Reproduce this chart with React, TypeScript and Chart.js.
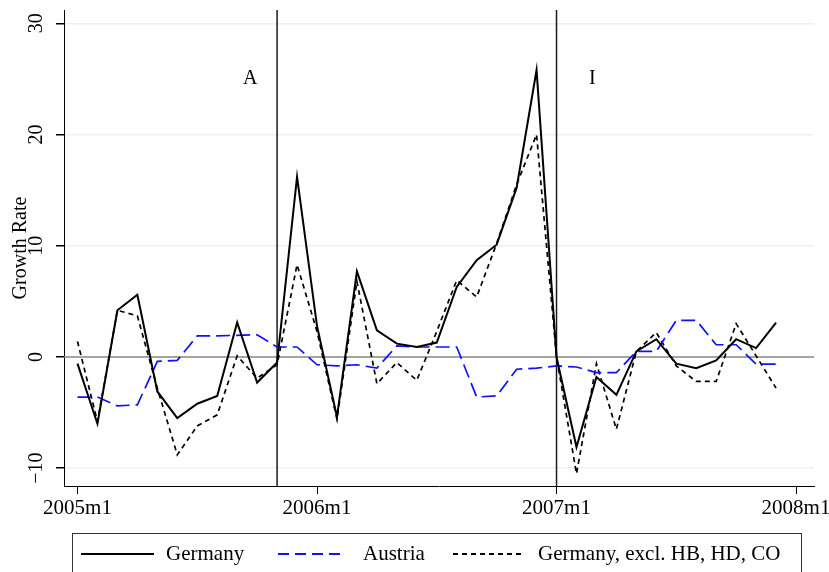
import React, { useEffect, useRef } from "react";
import { Chart, registerables } from "chart.js";

Chart.register(...registerables);

const FONT = "'Liberation Serif', 'Times New Roman', serif";

const months = [
  "2005m1", "2005m2", "2005m3", "2005m4", "2005m5", "2005m6",
  "2005m7", "2005m8", "2005m9", "2005m10", "2005m11", "2005m12",
  "2006m1", "2006m2", "2006m3", "2006m4", "2006m5", "2006m6",
  "2006m7", "2006m8", "2006m9", "2006m10", "2006m11", "2006m12",
  "2007m1", "2007m2", "2007m3", "2007m4", "2007m5", "2007m6",
  "2007m7", "2007m8", "2007m9", "2007m10", "2007m11", "2007m12",
];

const germany = [
  -0.6, -6.0, 4.2, 5.6, -3.1, -5.5, -4.2, -3.5, 3.1, -2.3, -0.5, 16.2,
  2.8, -5.4, 7.7, 2.4, 1.2, 0.9, 1.3, 6.3, 8.7, 10.1, 15.2, 25.8,
  0.0, -8.1, -1.8, -3.4, 0.5, 1.6, -0.6, -1.0, -0.3, 1.6, 0.8, 3.1,
];

const austria = [
  -3.6, -3.6, -4.4, -4.3, -0.4, -0.3, 1.9, 1.9, 1.95, 2.0, 0.9, 0.9,
  -0.7, -0.8, -0.7, -1.0, 1.0, 0.9, 0.9, 0.9, -3.6, -3.5, -1.1, -1.0,
  -0.8, -0.9, -1.4, -1.4, 0.5, 0.5, 3.3, 3.3, 1.1, 1.1, -0.65, -0.65,
];

const germanyExcl = [
  1.4, -5.8, 4.2, 3.7, -2.8, -8.8, -6.2, -5.2, 0.1, -1.9, -0.7, 8.3,
  2.3, -5.6, 6.8, -2.4, -0.5, -2.1, 2.3, 6.9, 5.4, 10.2, 15.5, 20.0,
  0.0, -10.5, -0.6, -6.5, 0.5, 2.2, -0.8, -2.2, -2.2, 3.0, 0.1, -2.8,
];

const xTickValues = [0, 12, 24, 36];
const xTickLabels = ["2005m1", "2006m1", "2007m1", "2008m1"];
const yTickValues = [-10, 0, 10, 20, 30];
const eventLines = [10, 24]; // 2005m11, 2007m1
const eventLabels = [
  { text: "A", x: 8.65, y: 25 },
  { text: "I", x: 25.8, y: 25 },
];
const seriesNames = ["Germany", "Austria", "Germany, excl. HB, HD, CO"];
const seriesColors = ["#000000", "#1010ff", "#000000"];
const seriesDashes: number[][] = [[], [14, 6], [5, 4]];

const customDraw = {
  id: "customDraw",
  beforeDatasetsDraw(chart: any) {
    const { ctx, chartArea: ca, scales } = chart;
    const x = scales.x;
    const y = scales.y;
    ctx.save();
    const y0 = y.getPixelForValue(0);
    ctx.strokeStyle = "#8a8a8a";
    ctx.lineWidth = 1.5;
    ctx.beginPath();
    ctx.moveTo(ca.left, y0);
    ctx.lineTo(ca.right, y0);
    ctx.stroke();
    ctx.strokeStyle = "#1a1a1a";
    ctx.lineWidth = 1.5;
    eventLines.forEach((m) => {
      const px = x.getPixelForValue(m);
      ctx.beginPath();
      ctx.moveTo(px, ca.top);
      ctx.lineTo(px, ca.bottom);
      ctx.stroke();
    });
    ctx.restore();
  },
  afterDraw(chart: any) {
    const { ctx, chartArea: ca, scales } = chart;
    const x = scales.x;
    const y = scales.y;
    ctx.save();
    ctx.fillStyle = "#000";
    ctx.font = `20px ${FONT}`;
    ctx.textAlign = "center";
    ctx.textBaseline = "middle";
    yTickValues.forEach((v) => {
      const py = y.getPixelForValue(v);
      ctx.save();
      ctx.translate(37, py);
      ctx.rotate(-Math.PI / 2);
      ctx.fillText(v < 0 ? "\u2212" + Math.abs(v) : String(v), 0, 0);
      ctx.restore();
    });
    ctx.save();
    ctx.translate(21, (ca.top + ca.bottom) / 2);
    ctx.rotate(-Math.PI / 2);
    ctx.fillText("Growth Rate", 0, 0);
    ctx.restore();
    eventLabels.forEach((l) => {
      ctx.fillText(l.text, x.getPixelForValue(l.x), y.getPixelForValue(l.y));
    });
    // legend
    ctx.strokeStyle = "#333";
    ctx.lineWidth = 1;
    ctx.strokeRect(72.5, 533.5, 729, 70);
    const ly = 554;
    const items = [
      { x1: 81, x2: 154, tx: 166 },
      { x1: 278, x2: 345, tx: 363 },
      { x1: 453, x2: 522, tx: 538 },
    ];
    ctx.font = `21px ${FONT}`;
    ctx.textAlign = "left";
    items.forEach((it, i) => {
      ctx.strokeStyle = seriesColors[i];
      ctx.lineWidth = i === 0 ? 2 : 1.8;
      ctx.setLineDash(i === 1 ? [11, 6] : seriesDashes[i]);
      ctx.beginPath();
      ctx.moveTo(it.x1, ly);
      ctx.lineTo(it.x2, ly);
      ctx.stroke();
      ctx.setLineDash([]);
      ctx.fillStyle = "#000";
      ctx.fillText(seriesNames[i], it.tx, ly);
    });
    ctx.restore();
  },
};

export default function App() {
  const canvasRef = useRef<HTMLCanvasElement | null>(null);

  useEffect(() => {
    if (!canvasRef.current) return;
    const series = [germany, austria, germanyExcl];
    const chart = new Chart(canvasRef.current, {
      type: "line",
      data: {
        labels: months,
        datasets: series.map((vals, si) => ({
          label: seriesNames[si],
          data: vals.map((v, i) => ({ x: i, y: v })),
          borderColor: seriesColors[si],
          borderWidth: si === 0 ? 2 : 1.7,
          borderDash: seriesDashes[si],
          pointRadius: 0,
          fill: false,
          tension: 0,
        })),
      },
      options: {
        animation: false,
        responsive: true,
        maintainAspectRatio: false,
        devicePixelRatio: 1,
        layout: { padding: { top: 10, right: 15, left: 0, bottom: 0 } },
        plugins: {
          legend: { display: false },
          tooltip: { enabled: false },
        },
        scales: {
          x: {
            type: "linear",
            min: -0.676,
            max: 36.9,
            afterBuildTicks: (scale: any) => {
              scale.ticks = xTickValues.map((v) => ({ value: v }));
            },
            afterFit: (scale: any) => {
              scale.height = 86;
              scale.paddingLeft = 0;
              scale.paddingRight = 0;
            },
            grid: {
              display: true,
              drawOnChartArea: false,
              drawTicks: true,
              tickLength: 8,
              color: "#000",
              lineWidth: 1,
            },
            border: { display: true, color: "#000", width: 1 },
            ticks: {
              autoSkip: false,
              maxRotation: 0,
              minRotation: 0,
              padding: 2,
              color: "#000",
              font: { family: FONT, size: 21 },
              callback: (value: any) => {
                const idx = xTickValues.indexOf(Number(value));
                return idx >= 0 ? xTickLabels[idx] : "";
              },
            },
          },
          y: {
            type: "linear",
            min: -11.6,
            max: 31.2,
            afterBuildTicks: (scale: any) => {
              scale.ticks = yTickValues.map((v) => ({ value: v }));
            },
            afterFit: (scale: any) => {
              scale.width = 64;
              scale.paddingTop = 0;
              scale.paddingBottom = 0;
            },
            grid: {
              display: true,
              drawOnChartArea: true,
              drawTicks: true,
              tickLength: 8,
              color: "#eaf1f3",
              tickColor: "#000",
              lineWidth: 1.5,
            },
            border: { display: true, color: "#000", width: 1 },
            ticks: { display: false },
          },
        },
      },
      plugins: [customDraw],
    });
    return () => chart.destroy();
  }, []);

  return (
    <div
      style={{
        position: "fixed",
        left: 0,
        top: 0,
        width: 829,
        height: 572,
        background: "#fff",
      }}
    >
      <canvas ref={canvasRef} />
    </div>
  );
}
